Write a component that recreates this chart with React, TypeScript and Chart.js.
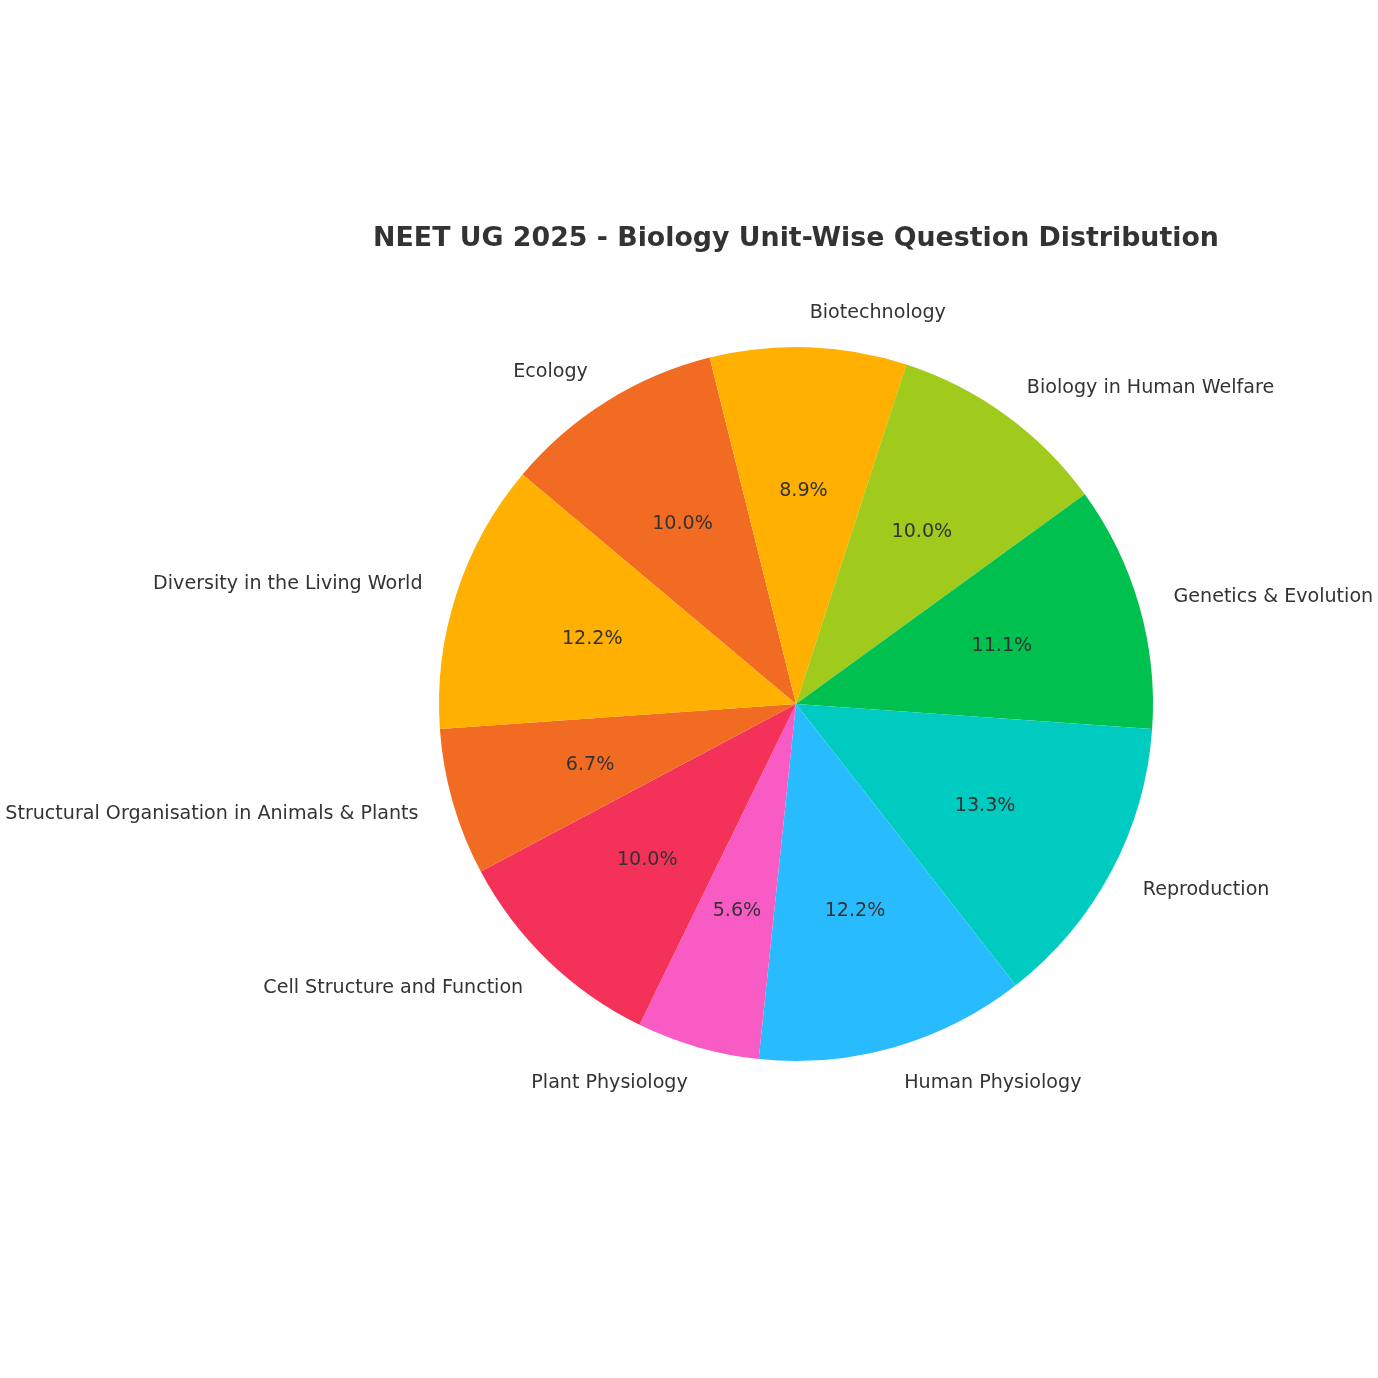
import React, { useEffect, useRef } from 'react';
import { Chart, registerables } from 'chart.js';

Chart.register(...registerables);

// NEET UG 2025 biology questions per unit (90 total)
const units = [
  'Diversity in the Living World',
  'Structural Organisation in Animals & Plants',
  'Cell Structure and Function',
  'Plant Physiology',
  'Human Physiology',
  'Reproduction',
  'Genetics & Evolution',
  'Biology in Human Welfare',
  'Biotechnology',
  'Ecology',
];
const questions = [11, 6, 9, 5, 11, 12, 10, 9, 8, 9];
const colors = [
  '#FFB000',
  '#F26B22',
  '#F43158',
  '#F95BC5',
  '#28BCFE',
  '#00CBC0',
  '#00C050',
  '#A0CA1C',
  '#FFB000',
  '#F26B22',
];

const TITLE = 'NEET UG 2025 - Biology Unit-Wise Question Distribution';
const FONT = '"DejaVu Sans", sans-serif';

// matplotlib goes counter-clockwise, Chart.js clockwise -> reverse the order
const revLabels = [...units].reverse();
const revValues = [...questions].reverse();
const revColors = [...colors].reverse();

const pieLabels = {
  id: 'pieLabels',
  afterDraw(chart: any) {
    const ctx = chart.ctx;
    const meta = chart.getDatasetMeta(0);
    const total = revValues.reduce((a, b) => a + b, 0);
    ctx.save();
    ctx.fillStyle = '#333333';
    ctx.textBaseline = 'middle';
    meta.data.forEach((arc: any, i: number) => {
      const { x, y, startAngle, endAngle, outerRadius } = arc.getProps(
        ['x', 'y', 'startAngle', 'endAngle', 'outerRadius'],
        true
      );
      const mid = (startAngle + endAngle) / 2;
      const c = Math.cos(mid);
      const s = Math.sin(mid);
      ctx.font = `19.1px ${FONT}`;
      ctx.textAlign = c > 0 ? 'left' : 'right';
      ctx.fillText(revLabels[i], x + c * outerRadius * 1.1, y + s * outerRadius * 1.1 + 1.5);
      ctx.textAlign = 'center';
      const pct = ((revValues[i] / total) * 100).toFixed(1) + '%';
      ctx.fillText(pct, x + c * outerRadius * 0.6, y + s * outerRadius * 0.6 + 1.5);
    });
    const area = chart.chartArea;
    ctx.font = `bold 26.8px ${FONT}`;
    ctx.textAlign = 'center';
    ctx.fillText(TITLE, (area.left + area.right) / 2, area.top - 108);
    ctx.restore();
  },
};

export default function App() {
  const canvasRef = useRef<HTMLCanvasElement | null>(null);

  useEffect(() => {
    const el = canvasRef.current;
    if (!el) return;

    const chart = new Chart(el, {
      type: 'pie',
      data: {
        labels: revLabels,
        datasets: [
          {
            data: revValues,
            backgroundColor: revColors,
            borderWidth: 0,
          },
        ],
      },
      options: {
        animation: false,
        responsive: true,
        maintainAspectRatio: false,
        rotation: -50,
        layout: {
          padding: { left: 439, right: 225, top: 347, bottom: 317 },
        },
        plugins: {
          legend: { display: false },
          tooltip: { enabled: false },
          title: { display: false },
        },
      },
      plugins: [pieLabels],
    });

    return () => {
      chart.destroy();
    };
  }, []);

  return (
    <div style={{ position: 'absolute', left: 0, top: 0, width: 1378, height: 1378, background: '#fff' }}>
      <canvas ref={canvasRef} />
    </div>
  );
}
